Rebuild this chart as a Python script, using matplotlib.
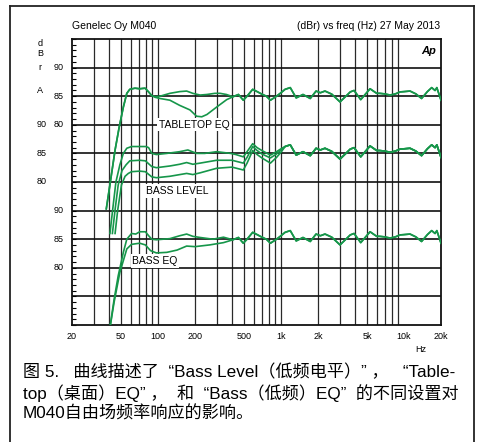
import numpy as np
import matplotlib
matplotlib.use("Agg")
import matplotlib.pyplot as plt
from matplotlib.ticker import FixedLocator, MultipleLocator, NullFormatter
from matplotlib.lines import Line2D
import matplotlib.transforms as mtransforms

# ---- data (frequency in Hz, level in dBr) ----
# shared high-frequency response (same for every setting above ~1 kHz)
hf_freq = [1080, 1190, 1330, 1510, 1730, 1930, 2090, 2280, 2590, 3020, 3660, 3930,
           4450, 5300, 6000, 6340, 7000, 7700, 8500, 9300, 10000, 11200, 12500,
           13900, 15500, 16800, 17900, 18500, 20000]
hf_db = [86.2, 86.5, 84.7, 85.3, 84.6, 85.9, 85.6, 85.9, 85.35, 84.0, 85.75, 86.0,
         84.4, 86.3, 85.5, 85.5, 85.4, 85.2, 85.4, 85.75, 85.8, 85.9, 85.4,
         84.6, 85.8, 86.5, 86.0, 86.5, 84.3]

# shared 450 Hz - 1 kHz section (tabletop / bass EQ panels)
mid_freq = [451, 494, 530, 589, 640, 694, 760, 821, 920, 1000]
mid_db = [85.3, 84.3, 85.0, 86.2, 85.8, 85.4, 85.0, 84.3, 85.0, 85.6]

# panel 1: TABLETOP EQ
tt_flat_freq = [38, 41, 44.8, 48.4, 52.3, 55.8, 59, 65, 71, 78.6, 83.9, 89, 95, 104,
                125, 150, 171, 192, 220, 250, 290, 320, 360, 407]
tt_flat_db = [65.3, 70.0, 75.6, 79.6, 83.1, 85.5, 86.2, 86.4, 86.3, 86.4, 85.75, 85.1,
              84.9, 85.0, 85.5, 85.8, 85.9, 85.5, 85.2, 85.3, 85.5, 85.5, 85.3, 84.9]
tt_eq_freq = [38, 41, 44.8, 48.4, 52.3, 55.8, 59, 65, 71, 78.6, 83.9, 89, 95, 104,
              125, 150, 182, 206, 227, 250, 300, 362, 407]
tt_eq_db = [65.3, 70.0, 75.6, 79.6, 83.1, 85.5, 86.2, 86.4, 86.3, 86.4, 85.75, 85.1,
            84.8, 84.6, 84.3, 83.4, 82.6, 81.5, 81.4, 81.8, 83.1, 84.4, 84.9]

# panel 2: BASS LEVEL (up to 1 kHz, then shared hf)
bl_0_freq = [40.7, 43, 45.5, 49, 52.3, 55.8, 61, 72, 80, 84, 89, 97, 118, 150, 175,
             206, 240, 300, 390, 430, 494, 530, 589, 640, 700, 821, 920, 1000]
bl_0_db = [71.0, 75.5, 80.0, 83.0, 85.0, 85.9, 86.2, 86.2, 86.2, 86.0, 85.0, 84.8,
           85.0, 85.3, 85.6, 85.0, 85.0, 85.3, 85.0, 84.8, 84.4, 85.3, 86.7, 86.0,
           85.5, 84.7, 85.3, 85.8]
bl_1_freq = [42.6, 45, 47.5, 51, 55, 59, 71, 79, 89, 97, 125, 150, 171, 192, 220,
             300, 400, 494, 530, 589, 640, 700, 821, 920, 1000]
bl_1_db = [71.0, 75.5, 79.5, 82.0, 83.0, 83.7, 83.8, 83.7, 82.7, 82.5, 82.8, 83.1,
           83.4, 83.1, 83.3, 83.8, 83.8, 83.3, 84.3, 86.2, 85.5, 84.9, 84.2, 84.9, 85.6]
bl_2_freq = [44.8, 47, 50.5, 54, 57.4, 61, 71, 79, 89, 97, 125, 171, 192, 220, 300,
             400, 494, 530, 589, 640, 700, 821, 920, 1000]
bl_2_db = [71.0, 75.0, 79.5, 81.0, 81.5, 81.8, 81.9, 81.8, 80.9, 80.75, 81.0, 81.5,
           81.3, 81.6, 82.4, 82.6, 82.1, 83.3, 85.5, 84.8, 84.2, 83.3, 84.3, 85.2]

# panel 3: BASS EQ
be_flat_freq = [40, 44, 47.5, 52.3, 55.8, 61, 66, 71, 79, 84, 89, 97, 125, 150, 171,
                192, 220, 280, 341, 407]
be_flat_db = [68.5, 74.5, 78.6, 82.7, 85.0, 86.0, 85.9, 86.3, 86.3, 85.6, 85.0, 84.9,
              85.1, 85.6, 85.9, 85.5, 85.3, 85.0, 85.35, 84.9]
be_eq_freq = [40, 44, 49, 55.8, 61, 71, 79, 87, 97, 118, 143, 171, 200, 263, 341, 407]
be_eq_db = [68.5, 74.0, 79.2, 83.3, 84.1, 84.3, 84.0, 83.0, 82.6, 82.7, 83.1, 83.8,
            83.7, 84.0, 84.4, 84.9]

# offset (dB) that places each panel on the common 0..50 plot scale
panel_offsets = [45, 55, 70]

ylab_pos = [45, 40, 35, 35, 30, 25, 20, 15, 10]
ylab_text = ["90", "85", "80", "90", "85", "80", "90", "85", "80"]
ylab_col = [1, 1, 1, 0, 0, 0, 1, 1, 1]

xtick_vals = [20, 50, 100, 200, 500, 1000, 2000, 5000, 10000, 20000]
xtick_text = ["20", "50", "100", "200", "500", "1k", "2k", "5k", "10k", "20k"]

caption_lines = [
    "图 5.   曲线描述了  “Bass Level（低频电平）” ，   “Table-",
    "top（桌面）EQ” ，  和  “Bass（低频）EQ”  的不同设置对",
    "M040自由场频率响应的影响。",
]

GREEN = "#16964a"
W, H = 478, 442

fig = plt.figure(figsize=(W / 100, H / 100), dpi=100)
ax = fig.add_axes([72 / W, 117 / H, 369 / W, 286 / H])
ax.set_xscale("log")
ax.set_xlim(20, 20000)
ax.set_ylim(0, 50)

# grid
grid_x = [f * d for d in (10, 100, 1000) for f in range(1, 10) if 20 < f * d < 20000]
for gx in grid_x:
    ax.axvline(gx, color="#2a2a2a", lw=0.9, zorder=1)
for gy in range(5, 50, 5):
    ax.axhline(gy, color="#111111", lw=1.2, zorder=1)


def panel(freq, db, k):
    return np.array(freq), np.array(db) - panel_offsets[k]


curves = [
    (tt_flat_freq + mid_freq + hf_freq, tt_flat_db + mid_db + hf_db, 0),
    (tt_eq_freq + mid_freq + hf_freq, tt_eq_db + mid_db + hf_db, 0),
    (bl_0_freq + hf_freq, bl_0_db + hf_db, 1),
    (bl_1_freq + hf_freq, bl_1_db + hf_db, 1),
    (bl_2_freq + hf_freq, bl_2_db + hf_db, 1),
    (be_flat_freq + mid_freq + hf_freq, be_flat_db + mid_db + hf_db, 2),
    (be_eq_freq + mid_freq + hf_freq, be_eq_db + mid_db + hf_db, 2),
]
for fr, db, k in curves:
    x, y = panel(fr, db, k)
    ax.plot(x, y, color=GREEN, lw=1.2, zorder=3, solid_joinstyle="round")

# panel labels
lab_kw = dict(fontsize=7.5, family="Liberation Sans", ha="center", va="center",
              zorder=4, bbox=dict(facecolor="white", edgecolor="none", pad=1.2))
ax.text(198, 35, "TABLETOP EQ", **lab_kw)
ax.text(144, 23.4, "BASS LEVEL", **lab_kw)
ax.text(94.5, 11.2, "BASS EQ", **lab_kw)

ax.text(0.987, 0.958, "Ap", transform=ax.transAxes, fontsize=8,
        fontweight="bold", style="italic", family="Liberation Sans", ha="right", va="center")

# axes / ticks
for s in ax.spines.values():
    s.set_linewidth(1.3)
    s.set_color("#111111")
ax.xaxis.set_major_locator(FixedLocator(xtick_vals))
ax.set_xticklabels(xtick_text, fontsize=6.5, family="Liberation Sans")
ax.xaxis.set_minor_formatter(NullFormatter())
ax.tick_params(axis="x", which="both", length=0, pad=5)
ax.set_yticks([])
ax.yaxis.set_minor_locator(MultipleLocator(1))
ax.tick_params(axis="y", which="minor", direction="in", length=3, width=0.8, left=True)

trans = mtransforms.blended_transform_factory(fig.transFigure, ax.transData)
col_x = [46.5 / W, 64 / W]
for p, t, c in zip(ylab_pos, ylab_text, ylab_col):
    ax.text(col_x[c], p, t, transform=trans, fontsize=6.5, family="Liberation Sans",
            ha="right", va="center")

for ch, py in zip(["d", "B", "r", "A"], [43, 54, 67, 91]):
    fig.text(40 / W, 1 - py / H, ch, fontsize=6.5, family="Liberation Sans",
             ha="center", va="center")

fig.text(72 / W, 1 - 26 / H, "Genelec Oy M040", fontsize=7.5, family="Liberation Sans",
         ha="left", va="center")
fig.text(440 / W, 1 - 26 / H, "(dBr) vs freq (Hz) 27 May 2013", fontsize=7.5,
         family="Liberation Sans", ha="right", va="center")
fig.text(421 / W, 1 - 349 / H, "Hz", fontsize=6.5, family="Liberation Sans",
         ha="center", va="center")

# outer frame (open at the bottom)
fx0, fx1, fy = 9.5 / W, 473.5 / W, 1 - 5.5 / H
for xs, ys in [([fx0, fx0], [0, fy]), ([fx0, fx1], [fy, fy]), ([fx1, fx1], [fy, 0])]:
    fig.add_artist(Line2D(xs, ys, transform=fig.transFigure, color="#222222", lw=1.3))

# caption
for line, py in zip(caption_lines, [372, 393, 413]):
    fig.text(23 / W, 1 - py / H, line, fontsize=12.3,
             family=["Liberation Sans", "Noto Sans CJK SC"], ha="left", va="center")

fig.savefig("out.png", dpi=100)
